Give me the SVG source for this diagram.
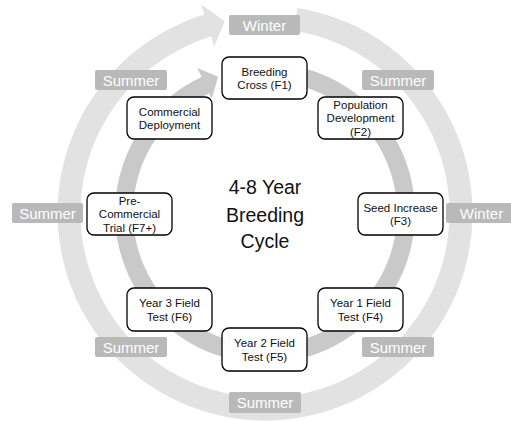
<svg xmlns="http://www.w3.org/2000/svg" width="511" height="421" viewBox="0 0 511 421">
<style>
.node rect{fill:#ffffff;stroke:#000000;stroke-width:1.3}
.node text{font-family:"Liberation Sans",Arial,sans-serif;font-size:11.5px;fill:#111111;text-anchor:middle}
.season rect{fill:#b9b9b9}
.season text{font-family:"Liberation Sans",Arial,sans-serif;font-size:15px;fill:#ffffff;text-anchor:middle}
.title{font-family:"Liberation Sans",Arial,sans-serif;font-size:19.5px;fill:#111111;text-anchor:middle}
</style>
<rect width="511" height="421" fill="#ffffff"/>
<g id="connectors">
<path id="outer-cycle" fill="#e2e2e2" d="M297.46,8.05 A207.5,207.5 0 1 1 204.33,14.57 L201.26,4.53 L224.92,21.14 L214.13,46.60 L211.06,36.56 A184.5,184.5 0 1 0 293.86,30.77 Z"/>
<path id="inner-cycle" fill="#c9c9c9" d="M278.07,63.57 A150,150 0 1 1 201.61,77.05 L197.38,67.99 L218.12,76.85 L211.75,98.80 L209.21,93.37 A132,132 0 1 0 276.51,81.50 Z"/>
</g>
<g id="seasons" class="season">
<g id="s-winter-top"><rect x="229" y="15" width="71" height="20" rx="2"/><text x="264.5" y="30.5">Winter</text></g>
<g id="s-summer-ul"><rect x="95" y="70" width="72" height="20" rx="2"/><text x="131" y="85.5">Summer</text></g>
<g id="s-summer-ur"><rect x="362" y="70" width="72" height="20" rx="2"/><text x="398" y="85.5">Summer</text></g>
<g id="s-summer-l"><rect x="12" y="203" width="71" height="20" rx="2"/><text x="47.5" y="218.5">Summer</text></g>
<g id="s-winter-r"><rect x="446" y="203" width="71" height="20" rx="2"/><text x="481.5" y="218.5">Winter</text></g>
<g id="s-summer-ll"><rect x="95" y="337" width="72" height="20" rx="2"/><text x="131" y="352.5">Summer</text></g>
<g id="s-summer-lr"><rect x="362" y="337" width="72" height="20" rx="2"/><text x="398" y="352.5">Summer</text></g>
<g id="s-summer-b"><rect x="229" y="392" width="72" height="21" rx="2"/><text x="265" y="408">Summer</text></g>
</g>
<g id="n-f1" class="node"><rect x="222" y="57" width="85" height="42" rx="7"/><text x="264.5" y="75.5">Breeding</text><text x="264.5" y="89">Cross (F1)</text></g>
<g id="n-f2" class="node"><rect x="318" y="97" width="85" height="42" rx="7"/><text x="360.5" y="108.7">Population</text><text x="360.5" y="122.2">Development</text><text x="360.5" y="135.7">(F2)</text></g>
<g id="n-f3" class="node"><rect x="358" y="193" width="85" height="42" rx="7"/><text x="400.5" y="211.5">Seed Increase</text><text x="400.5" y="225">(F3)</text></g>
<g id="n-f4" class="node"><rect x="318" y="288" width="85" height="43" rx="7"/><text x="360.5" y="307">Year 1 Field</text><text x="360.5" y="320.5">Test (F4)</text></g>
<g id="n-f5" class="node"><rect x="222" y="328" width="85" height="43" rx="7"/><text x="264.5" y="347">Year 2 Field</text><text x="264.5" y="360.5">Test (F5)</text></g>
<g id="n-f6" class="node"><rect x="127" y="288" width="85" height="43" rx="7"/><text x="169.5" y="307">Year 3 Field</text><text x="169.5" y="320.5">Test (F6)</text></g>
<g id="n-f7" class="node"><rect x="87" y="193" width="85" height="42" rx="7"/><text x="129.5" y="204.7">Pre-</text><text x="129.5" y="218.2">Commercial</text><text x="129.5" y="231.7">Trial (F7+)</text></g>
<g id="n-cd" class="node"><rect x="127" y="97" width="85" height="42" rx="7"/><text x="169.5" y="115.5">Commercial</text><text x="169.5" y="129">Deployment</text></g>
<g id="center-label"><text class="title" x="265" y="194">4-8 Year</text><text class="title" x="265" y="221.5">Breeding</text><text class="title" x="265" y="248">Cycle</text></g>
</svg>
